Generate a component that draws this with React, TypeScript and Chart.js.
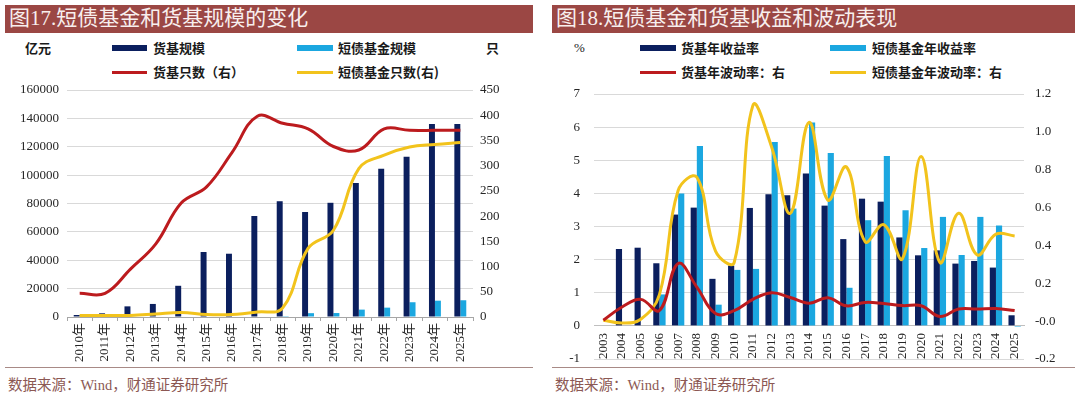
import React, { useEffect, useRef } from "react";
import { Chart, registerables } from "chart.js";

Chart.register(...registerables);

// ---------- Figure 17 data ----------
const years17 = [
  "2010年", "2011年", "2012年", "2013年", "2014年", "2015年", "2016年", "2017年",
  "2018年", "2019年", "2020年", "2021年", "2022年", "2023年", "2024年", "2025年",
];
const mmfScale17 = [1400, 2600, 7500, 9200, 22000, 45800, 44600, 71200, 81600, 74000, 80500, 94500, 104500, 113000, 136000, 136000];
const sbfScale17 = [0, 0, 0, 0, 0, 0, 0, 0, 600, 2700, 2800, 5200, 6600, 10400, 11500, 11800];
const mmfCount17 = [47, 47, 95, 145, 226, 258, 326, 398, 384, 373, 338, 331, 373, 370, 370, 370];
const sbfCount17 = [3, 3, 3, 6, 9, 5, 5, 10, 18, 136, 172, 294, 321, 337, 342, 346];

// ---------- Figure 18 data ----------
const years18 = [
  "2003", "2004", "2005", "2006", "2007", "2008", "2009", "2010", "2011", "2012", "2013", "2014",
  "2015", "2016", "2017", "2018", "2019", "2020", "2021", "2022", "2023", "2024", "2025",
];
const mmfReturn18 = [null, 2.32, 2.36, 1.89, 3.36, 3.57, 1.42, 1.82, 3.56, 3.97, 3.94, 4.6, 3.63, 2.62, 3.84, 3.75, 2.67, 2.13, 2.28, 1.88, 1.96, 1.76, 0.32];
const sbfReturn18 = [null, null, null, 0.95, 4.0, 5.43, 0.64, 1.69, 1.72, 5.55, 3.54, 6.14, 5.22, 1.15, 3.19, 5.13, 3.49, 2.35, 3.29, 2.14, 3.29, 3.03, -0.03];
const mmfVol18 = [0.005, 0.075, 0.115, 0.056, 0.305, 0.18, 0.04, 0.056, 0.115, 0.15, 0.125, 0.095, 0.124, 0.081, 0.099, 0.093, 0.082, 0.081, 0.025, 0.064, 0.064, 0.067, 0.056];
const sbfVol18 = [0.005, -0.01, 0.01, 0.14, 0.69, 0.76, 0.37, 0.31, 1.14, 0.92, 0.57, 1.05, 0.64, 0.815, 0.42, 0.51, 0.33, 0.87, 0.31, 0.57, 0.35, 0.46, 0.45];

// ---------- styles ----------
const NAVY = "#0B1F5E";
const SKY = "#1BA7E0";
const RED = "#BC1B1E";
const GOLD = "#F2C31C";
const TITLE_BG = "#9B4744";
const GRID = "#D9D9D9";
const TICK = "#262626";
const SOURCE = "#8C5853";
const SERIF = "'Liberation Serif', 'Noto Sans CJK SC', serif";
const CJK = "'Noto Sans CJK SC', sans-serif";

const tickFont = { family: SERIF, size: 13 };

function fitY(width: number) {
  return (s: any) => {
    s.width = width;
    s.paddingTop = 0;
    s.paddingBottom = 0;
  };
}

function Box(p: { l: number; t: number; w: number; h: number; c: string }) {
  return <div style={{ position: "absolute", left: p.l, top: p.t, width: p.w, height: p.h, background: p.c }} />;
}

function Txt(p: { l: number; cy: number; size: number; color?: string; weight?: number; family?: string; children: any }) {
  return (
    <div
      style={{
        position: "absolute",
        left: p.l,
        top: p.cy - p.size * 0.6,
        fontSize: p.size,
        lineHeight: `${p.size * 1.2}px`,
        color: p.color || "#1a1a1a",
        fontWeight: p.weight || 400,
        fontFamily: p.family || CJK,
        whiteSpace: "nowrap",
      }}
    >
      {p.children}
    </div>
  );
}

function Chart17() {
  const ref = useRef<HTMLCanvasElement>(null);
  useEffect(() => {
    const chart = new Chart(ref.current!, {
      type: "bar",
      data: {
        labels: years17,
        datasets: [
          { type: "line", label: "货基只数（右）", data: mmfCount17, yAxisID: "y1", borderColor: RED, borderWidth: 3, pointRadius: 0, tension: 0.4, order: 0 } as any,
          { type: "line", label: "短债基金只数(右)", data: sbfCount17, yAxisID: "y1", borderColor: GOLD, borderWidth: 3, pointRadius: 0, tension: 0.4, order: 1 } as any,
          { type: "bar", label: "货基规模", data: mmfScale17, yAxisID: "y", backgroundColor: NAVY, categoryPercentage: 0.47, barPercentage: 1, order: 2 },
          { type: "bar", label: "短债基金规模", data: sbfScale17, yAxisID: "y", backgroundColor: SKY, categoryPercentage: 0.47, barPercentage: 1, order: 3 },
        ],
      },
      options: {
        responsive: false,
        animation: false,
        devicePixelRatio: 1,
        layout: { padding: { top: 10, left: 0, right: 0, bottom: 0 } },
        plugins: { legend: { display: false }, tooltip: { enabled: false } },
        scales: {
          x: {
            ticks: { autoSkip: false, maxRotation: 90, minRotation: 90, padding: 2, color: TICK, font: tickFont },
            grid: { drawOnChartArea: false, offset: true, tickLength: 4, color: "#A6A6A6" },
            border: { color: "#A6A6A6" },
            afterFit: (s: any) => { s.height = 53; },
          },
          y: {
            position: "left",
            min: 0,
            max: 160000,
            ticks: { stepSize: 20000, padding: 8, color: TICK, font: tickFont, callback: (v: any) => String(v) },
            grid: { color: GRID, drawTicks: false },
            border: { display: false },
            afterFit: fitY(67),
          },
          y1: {
            position: "right",
            min: 0,
            max: 450,
            ticks: { stepSize: 50, padding: 7, color: TICK, font: tickFont, callback: (v: any) => String(v) },
            grid: { drawOnChartArea: false, drawTicks: false },
            border: { display: false },
            afterFit: fitY(67),
          },
        },
      } as any,
    });
    return () => chart.destroy();
  }, []);
  return <canvas ref={ref} width={540} height={290} style={{ position: "absolute", left: 0, top: 80 }} />;
}

function Chart18() {
  const ref = useRef<HTMLCanvasElement>(null);
  useEffect(() => {
    const chart = new Chart(ref.current!, {
      type: "bar",
      data: {
        labels: years18,
        datasets: [
          { type: "line", label: "货基年波动率：右", data: mmfVol18, yAxisID: "y1", borderColor: RED, borderWidth: 3, pointRadius: 0, tension: 0.4, order: 0 } as any,
          { type: "line", label: "短债基金年波动率：右", data: sbfVol18, yAxisID: "y1", borderColor: GOLD, borderWidth: 3, pointRadius: 0, tension: 0.4, order: 1 } as any,
          { type: "bar", label: "货基年收益率", data: mmfReturn18, yAxisID: "y", backgroundColor: NAVY, categoryPercentage: 0.66, barPercentage: 1, order: 2 },
          { type: "bar", label: "短债基金年收益率", data: sbfReturn18, yAxisID: "y", backgroundColor: SKY, categoryPercentage: 0.66, barPercentage: 1, order: 3 },
        ],
      },
      options: {
        responsive: false,
        animation: false,
        devicePixelRatio: 1,
        layout: { padding: { top: 14, left: 0, right: 0, bottom: 11 } },
        plugins: { legend: { display: false }, tooltip: { enabled: false } },
        scales: {
          x: {
            position: { y: 0 },
            ticks: { autoSkip: false, maxRotation: 90, minRotation: 90, padding: 7, color: TICK, font: tickFont },
            grid: { drawOnChartArea: false, drawTicks: false, color: "#BFBFBF" },
            border: { display: true, color: "#BFBFBF" },
          },
          y: {
            position: "left",
            min: -1,
            max: 7,
            ticks: { stepSize: 1, padding: 14, color: TICK, font: tickFont, callback: (v: any) => String(v) },
            grid: { color: GRID, drawTicks: false },
            border: { display: false },
            afterFit: fitY(54),
          },
          y1: {
            position: "right",
            min: -0.2,
            max: 1.2,
            ticks: { stepSize: 0.2, padding: 11, color: TICK, font: tickFont, callback: (v: any) => Number(v).toFixed(1) },
            grid: { drawOnChartArea: false, drawTicks: false },
            border: { display: false },
            afterFit: fitY(56),
          },
        },
      } as any,
    });
    return () => chart.destroy();
  }, []);
  return <canvas ref={ref} width={540} height={290} style={{ position: "absolute", left: 540, top: 80 }} />;
}

export default function App() {
  const titleColor = "#F8EFEE";
  return (
    <div style={{ position: "fixed", left: 0, top: 0, width: 1080, height: 396, background: "#fff", overflow: "hidden" }}>
      {/* ---------- Panel 17 ---------- */}
      <Box l={5} t={5} w={528} h={28} c={TITLE_BG} />
      <Txt l={9} cy={19} size={21} color={titleColor} family={SERIF}>图17.短债基金和货基规模的变化</Txt>
      <Txt l={25} cy={48} size={13} weight={700}>亿元</Txt>
      <Box l={112} t={45} w={35} h={6} c={NAVY} />
      <Txt l={153} cy={48} size={13} weight={700}>货基规模</Txt>
      <Box l={297} t={45} w={36} h={6} c={SKY} />
      <Txt l={338} cy={48} size={13} weight={700}>短债基金规模</Txt>
      <Txt l={486} cy={48} size={13} weight={700}>只</Txt>
      <Box l={112} t={71} w={35} h={3} c={RED} />
      <Txt l={153} cy={72} size={13} weight={700}>货基只数（右）</Txt>
      <Box l={297} t={71} w={36} h={3} c={GOLD} />
      <Txt l={338} cy={72} size={13} weight={700}>短债基金只数(右)</Txt>
      <Chart17 />
      <Box l={5} t={367} w={528} h={1} c="#A88A86" />
      <Txt l={8} cy={386} size={14.5} color={SOURCE} family={SERIF}>数据来源：Wind，财通证券研究所</Txt>

      {/* ---------- Panel 18 ---------- */}
      <Box l={552} t={5} w={523} h={28} c={TITLE_BG} />
      <Txt l={556} cy={19} size={21} color={titleColor} family={SERIF}>图18.短债基金和货基收益和波动表现</Txt>
      <Txt l={574} cy={48} size={13} family={SERIF}>%</Txt>
      <Box l={640} t={45} w={36} h={6} c={NAVY} />
      <Txt l={681} cy={48} size={13} weight={700}>货基年收益率</Txt>
      <Box l={830} t={45} w={36} h={6} c={SKY} />
      <Txt l={872} cy={48} size={13} weight={700}>短债基金年收益率</Txt>
      <Box l={640} t={71} w={36} h={3} c={RED} />
      <Txt l={681} cy={72} size={13} weight={700}>货基年波动率：右</Txt>
      <Box l={830} t={71} w={36} h={3} c={GOLD} />
      <Txt l={872} cy={72} size={13} weight={700}>短债基金年波动率：右</Txt>
      <Chart18 />
      <Box l={552} t={367} w={523} h={1} c="#A88A86" />
      <Txt l={555} cy={386} size={14.5} color={SOURCE} family={SERIF}>数据来源：Wind，财通证券研究所</Txt>
    </div>
  );
}
